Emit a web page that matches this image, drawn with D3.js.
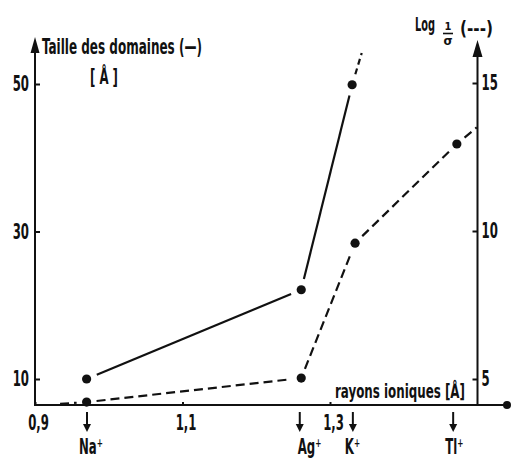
<!DOCTYPE html>
<html>
<head>
<meta charset="utf-8">
<script src="https://cdn.jsdelivr.net/npm/d3@7"></script>
<style>
  html, body { margin: 0; padding: 0; background: #fff; }
  svg { display: block; }
  text { font-family: "DejaVu Sans Condensed", "DejaVu Sans", sans-serif; font-weight: bold; fill: #111; }
</style>
</head>
<body>
<svg id="chart" width="511" height="458"></svg>
<script>
/* ---------- data ---------- */
const ionLabels  = ['Na⁺', 'Ag⁺', 'K⁺', 'Tl⁺'];
const ionRadius  = [0.9705, 1.259, 1.331, 1.467];

// taille des domaines (solid, left axis) — last point is the dashed extension
const sizeX      = [0.97, 1.261, 1.33, 1.343];
const sizeY      = [10, 22.1, 49.9, 54.2];
const sizeMarked = [true, true, true, false];

// log 1/sigma (dashed, right axis)
const logX       = [0.934, 0.97, 1.261, 1.334, 1.472, 1.499];
const logY       = [4.16, 4.22, 5.03, 9.59, 12.94, 13.5];
const logMarked  = [false, true, true, true, true, false];

const xTicks     = [0.9, 1.1, 1.3];
const leftTicks  = [10, 30, 50];
const rightTicks = [5, 10, 15];

/* ---------- scales ---------- */
const svg = d3.select('#chart');
const x  = d3.scaleLinear().domain([0.9, 1.3]).range([35, 330]);
const yL = d3.scaleLinear().domain([10, 50]).range([379, 84]);
const yR = d3.scaleLinear().domain([5, 15]).range([379, 83]);

const baseY  = 405;
const leftX  = x(0.9);
const rightX = x(1.5);
const fmt = d => String(d).replace('.', ',');

// squeeze a text horizontally around its anchor (the original lettering is very narrow)
function squeeze(sel, f) {
  sel.each(function () {
    const ax = +this.getAttribute('x') || 0;
    d3.select(this).attr('transform', `translate(${ax * (1 - f)},0) scale(${f},1)`);
  });
}
function fitWidth(t, w) {
  squeeze(t, w / t.node().getComputedTextLength());
  return t;
}

/* ---------- axes ---------- */
const axL = svg.append('g').attr('transform', `translate(${leftX},0)`)
  .call(d3.axisLeft(yL).tickValues(leftTicks).tickSize(-5).tickPadding(6));
const axR = svg.append('g').attr('transform', `translate(${rightX},0)`)
  .call(d3.axisRight(yR).tickValues(rightTicks).tickSize(-5).tickPadding(4));
const axB = svg.append('g').attr('transform', `translate(0,${baseY})`)
  .call(d3.axisBottom(x).tickValues(xTicks).tickFormat(fmt).tickSize(-3).tickPadding(10));

[axL, axR, axB].forEach(g => {
  g.select('.domain').remove();
  g.selectAll('.tick line').attr('stroke', '#111').attr('stroke-width', 2);
  g.selectAll('.tick text').attr('font-size', 21).attr('font-family', null).attr('fill', '#111');
});
axB.selectAll('.tick text').attr('x', 3);
[axL, axR, axB].forEach(g => squeeze(g.selectAll('.tick text'), 0.62));

// axis lines
svg.append('line').attr('x1', leftX).attr('x2', leftX).attr('y1', 48).attr('y2', baseY + 1)
  .attr('stroke', '#111').attr('stroke-width', 2);
svg.append('line').attr('x1', rightX).attr('x2', rightX).attr('y1', 52).attr('y2', baseY)
  .attr('stroke', '#111').attr('stroke-width', 2);
svg.append('line').attr('x1', leftX - 1).attr('x2', x(1.54)).attr('y1', baseY).attr('y2', baseY)
  .attr('stroke', '#111').attr('stroke-width', 2.2);

// arrow heads
svg.append('path').attr('d', `M${leftX},37 L${leftX - 4.5},53 L${leftX + 4.5},53 Z`).attr('fill', '#111');
svg.append('path').attr('d', `M${rightX},40 L${rightX - 5},57 L${rightX + 5},57 Z`).attr('fill', '#111');
svg.append('circle').attr('cx', x(1.54)).attr('cy', baseY).attr('r', 4).attr('fill', '#111');

/* ---------- ion markers ---------- */
ionLabels.forEach((lab, i) => {
  const cx = x(ionRadius[i]);
  svg.append('line').attr('x1', cx).attr('x2', cx).attr('y1', 412).attr('y2', 426)
    .attr('stroke', '#111').attr('stroke-width', 2);
  svg.append('path').attr('d', `M${cx - 4},424 L${cx + 4},424 L${cx},432 Z`).attr('fill', '#111');
  const t = svg.append('text').attr('x', i === 1 ? cx - 2 : cx - 8).attr('y', 454)
    .attr('font-size', 21).text(lab);
  squeeze(t, 0.62);
});

/* ---------- series ---------- */
function drawSeries(xs, ys, marked, yScale, dashed) {
  const pts = xs.map((v, i) => [x(v), yScale(ys[i])]);
  const gap = dashed ? 10 : 11;
  for (let i = 0; i < pts.length - 1; i++) {
    const [x0, y0] = pts[i], [x1, y1] = pts[i + 1];
    const len = Math.hypot(x1 - x0, y1 - y0);
    const ux = (x1 - x0) / len, uy = (y1 - y0) / len;
    const g0 = marked[i] ? gap : 0, g1 = marked[i + 1] ? gap : 0;
    const extDash = !dashed && !marked[i + 1];
    svg.append('line')
      .attr('x1', x0 + ux * g0).attr('y1', y0 + uy * g0)
      .attr('x2', x1 - ux * g1).attr('y2', y1 - uy * g1)
      .attr('stroke', '#111').attr('stroke-width', 2.2)
      .attr('stroke-dasharray', dashed ? '9,5' : extDash ? '6,4' : null);
  }
  pts.forEach((p, i) => {
    if (marked[i]) svg.append('circle').attr('cx', p[0]).attr('cy', p[1]).attr('r', 4.6).attr('fill', '#111');
  });
}
drawSeries(sizeX, sizeY, sizeMarked, yL, false);
drawSeries(logX, logY, logMarked, yR, true);

/* ---------- labels ---------- */
fitWidth(svg.append('text').attr('x', 42).attr('y', 54).attr('font-size', 22)
  .text('Taille  des domaines (—)'), 160);
fitWidth(svg.append('text').attr('x', 90).attr('y', 84).attr('font-size', 21).text('[ Å ]'), 28);

fitWidth(svg.append('text').attr('x', 415).attr('y', 31).attr('font-size', 20).text('Log'), 20);
svg.append('text').attr('x', 448).attr('y', 30).attr('font-size', 11).attr('text-anchor', 'middle').text('1');
svg.append('line').attr('x1', 443).attr('x2', 453).attr('y1', 33.5).attr('y2', 33.5)
  .attr('stroke', '#111').attr('stroke-width', 1.6);
svg.append('text').attr('x', 448).attr('y', 45).attr('font-size', 13).attr('text-anchor', 'middle').text('σ');
fitWidth(svg.append('text').attr('x', 460).attr('y', 35).attr('font-size', 20).text('(---)'), 33);

fitWidth(svg.append('text').attr('x', 335).attr('y', 398).attr('font-size', 20)
  .text('rayons  ioniques [Å]'), 130);
</script>
</body>
</html>
